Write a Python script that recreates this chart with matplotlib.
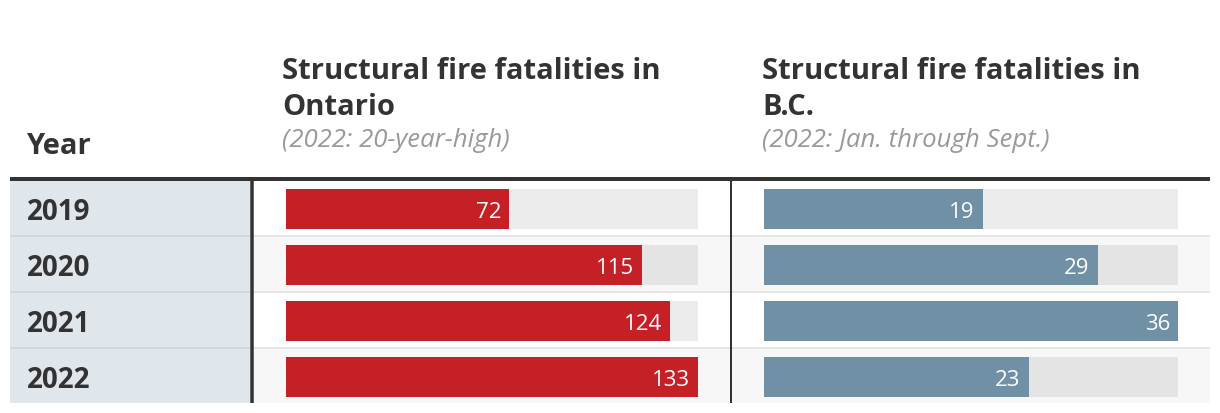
import matplotlib.pyplot as plt
from matplotlib.patches import Rectangle

plt.rcParams['font.family'] = ['Open Sans', 'DejaVu Sans']

years = ["2019", "2020", "2021", "2022"]
ontario = [72, 115, 124, 133]
bc = [19, 29, 36, 23]

col_titles = ["Structural fire fatalities in", "Structural fire fatalities in"]
col_titles2 = ["Ontario", "B.C."]
col_notes = ["(2022: 20-year-high)", "(2022: Jan. through Sept.)"]

RED = "#c52026"
BLUE = "#6f90a5"
DARK = "#333333"

W, H = 1220, 414
fig = plt.figure(figsize=(W / 100, H / 100), dpi=100)

# background layer in pixel coordinates
bg = fig.add_axes([0, 0, 1, 1])
bg.set_xlim(0, W)
bg.set_ylim(H, 0)
bg.axis("off")

top = 182
row_h = 56
bottom = 404
px = 0.72  # points per pixel

for i, yr in enumerate(years):
    y0 = top + i * row_h
    h = min(row_h, bottom - y0)
    if i % 2:
        bg.add_patch(Rectangle((252, y0), 1210 - 252, h, color="#f7f7f7", lw=0))
    bg.add_patch(Rectangle((10, y0), 240, h, color="#dfe6ec", lw=0))
    if i > 0:
        bg.plot([252, 1210], [y0 - 1, y0 - 1], color="#e6e6e6", lw=2 * px, solid_capstyle="butt")
        bg.plot([10, 250], [y0 - 1, y0 - 1], color="#cfd8dd", lw=2 * px, solid_capstyle="butt")
    bg.text(27, y0 + 28 + 10, yr, fontsize=20, fontweight="bold", color=DARK, va="baseline")

# header
bg.plot([10, 1210], [180, 180], color=DARK, lw=4 * px, solid_capstyle="butt")
bg.plot([252, 252], [182, bottom], color=DARK, lw=3.5 * px, solid_capstyle="butt")
bg.plot([731, 731], [182, bottom], color=DARK, lw=2 * px, solid_capstyle="butt")

bg.text(26, 154, "Year", fontsize=21, fontweight="bold", color=DARK, va="baseline")
for x, t1, t2, note in zip([282, 762], col_titles, col_titles2, col_notes):
    bg.text(x, 79, t1, fontsize=21, fontweight="bold", color=DARK, va="baseline")
    bg.text(x, 115, t2, fontsize=21, fontweight="bold", color=DARK, va="baseline")
    bg.text(x, 147, note, fontsize=18.5, fontstyle="italic", color="#999999", va="baseline")


def bar_column(left, width, values, color):
    ax = fig.add_axes([left / W, 1 - (top + 4 * row_h) / H, width / W, 4 * row_h / H])
    ax.set_xlim(0, max(values))
    ax.set_ylim(len(values) - 0.5, -0.5)
    ax.axis("off")
    pos = range(len(values))
    ax.barh(pos, [max(values)] * len(values), height=40 / row_h, color="black", alpha=0.075, lw=0)
    ax.barh(pos, values, height=40 / row_h, color=color, lw=0)
    for p, v in zip(pos, values):
        ax.annotate(str(v), xy=(v, p), xytext=(-8 * px, -8.5 * px), textcoords="offset points",
                    ha="right", va="baseline", color="white", fontsize=16)
    return ax


bar_column(286, 412, ontario, RED)
bar_column(764, 414, bc, BLUE)

fig.savefig("out.png", dpi=100)
